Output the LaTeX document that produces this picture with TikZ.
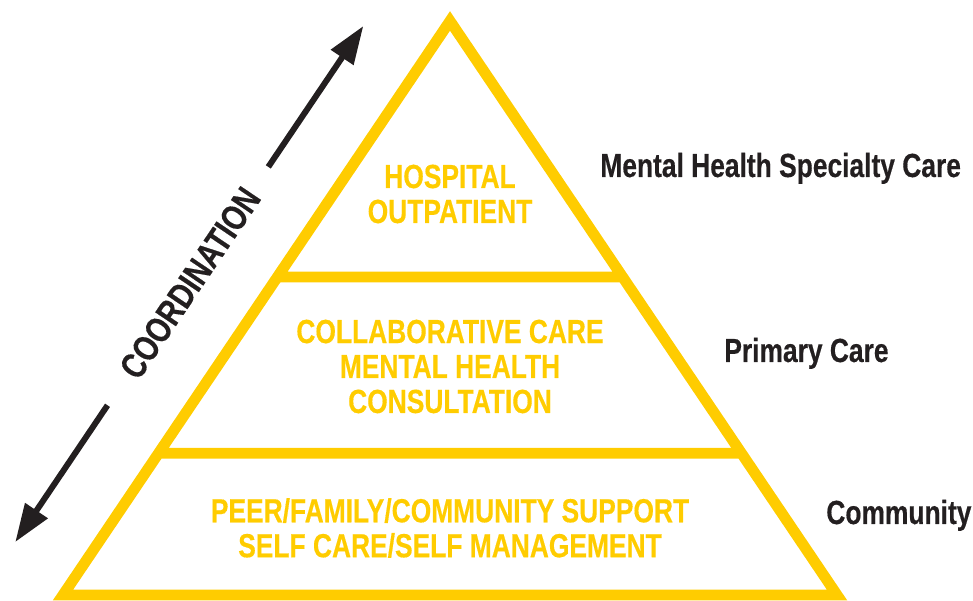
\documentclass[tikz,border=0pt]{standalone}
\usepackage{fontspec}
\usetikzlibrary{calc,arrows.meta}
\newfontfamily\condbf{Liberation Sans}[FakeStretch=0.79, FakeBold=0.4]
\definecolor{tieryellow}{HTML}{FFCC00}
\definecolor{inkblack}{HTML}{231F20}

\begin{document}
\begin{tikzpicture}[
    bold/.style={font=\fontsize{19}{19.9}\selectfont\condbf\bfseries, inner sep=0pt},
    tier/.style={bold, text=tieryellow, align=center},
    level/.style={bold, text=inkblack, anchor=base west},
    flow/.style={draw=inkblack, line width=3.4pt, -{Triangle[length=0.76cm,width=0.52cm]}}
]
    \useasboundingbox (0,0) rectangle (19.46,12.02);
    \coordinate (top) at (9,11.6);
    \coordinate (bl) at (1.26,0.12);
    \coordinate (br) at (16.74,0.12);
    \draw[tieryellow, line width=6.2pt]
        (top) -- (bl) -- (br) -- cycle
        ($(top)!0.446!(bl)$) -- ($(top)!0.446!(br)$)
        ($(top)!0.753!(bl)$) -- ($(top)!0.753!(br)$)
    ;
    \node[tier] (hospital) at (9,8.14) {HOSPITAL\\OUTPATIENT};
    \node[tier] (primary) at (9,4.69) {COLLABORATIVE CARE\\MENTAL HEALTH\\CONSULTATION};
    \node[tier] (community) at (9,1.46) {PEER/FAMILY/COMMUNITY SUPPORT\\SELF CARE/SELF MANAGEMENT};
    \node[level] (specialtyLbl) at (12.0,8.48) {Mental Health Specialty Care};
    \node[level] (primaryLbl) at (14.48,4.78) {Primary Care};
    \node[level] (communityLbl) at (16.52,1.54) {Community};
    \node[bold, font=\fontsize{20.5}{21}\selectfont\condbf\bfseries, text=inkblack, rotate=56] (coord) at (3.8,6.36) {COORDINATION};
    \coordinate (upTail) at ($(coord)+(56:2.8)$);
    \coordinate (upTip) at ($(coord)+(56:6.2)$);
    \coordinate (downTail) at ($(coord)+(236:2.95)$);
    \coordinate (downTip) at ($(coord)+(236:6.25)$);
    \draw[flow] (upTail) -- (upTip);
    \draw[flow] (downTail) -- (downTip);
\end{tikzpicture}
\end{document}
